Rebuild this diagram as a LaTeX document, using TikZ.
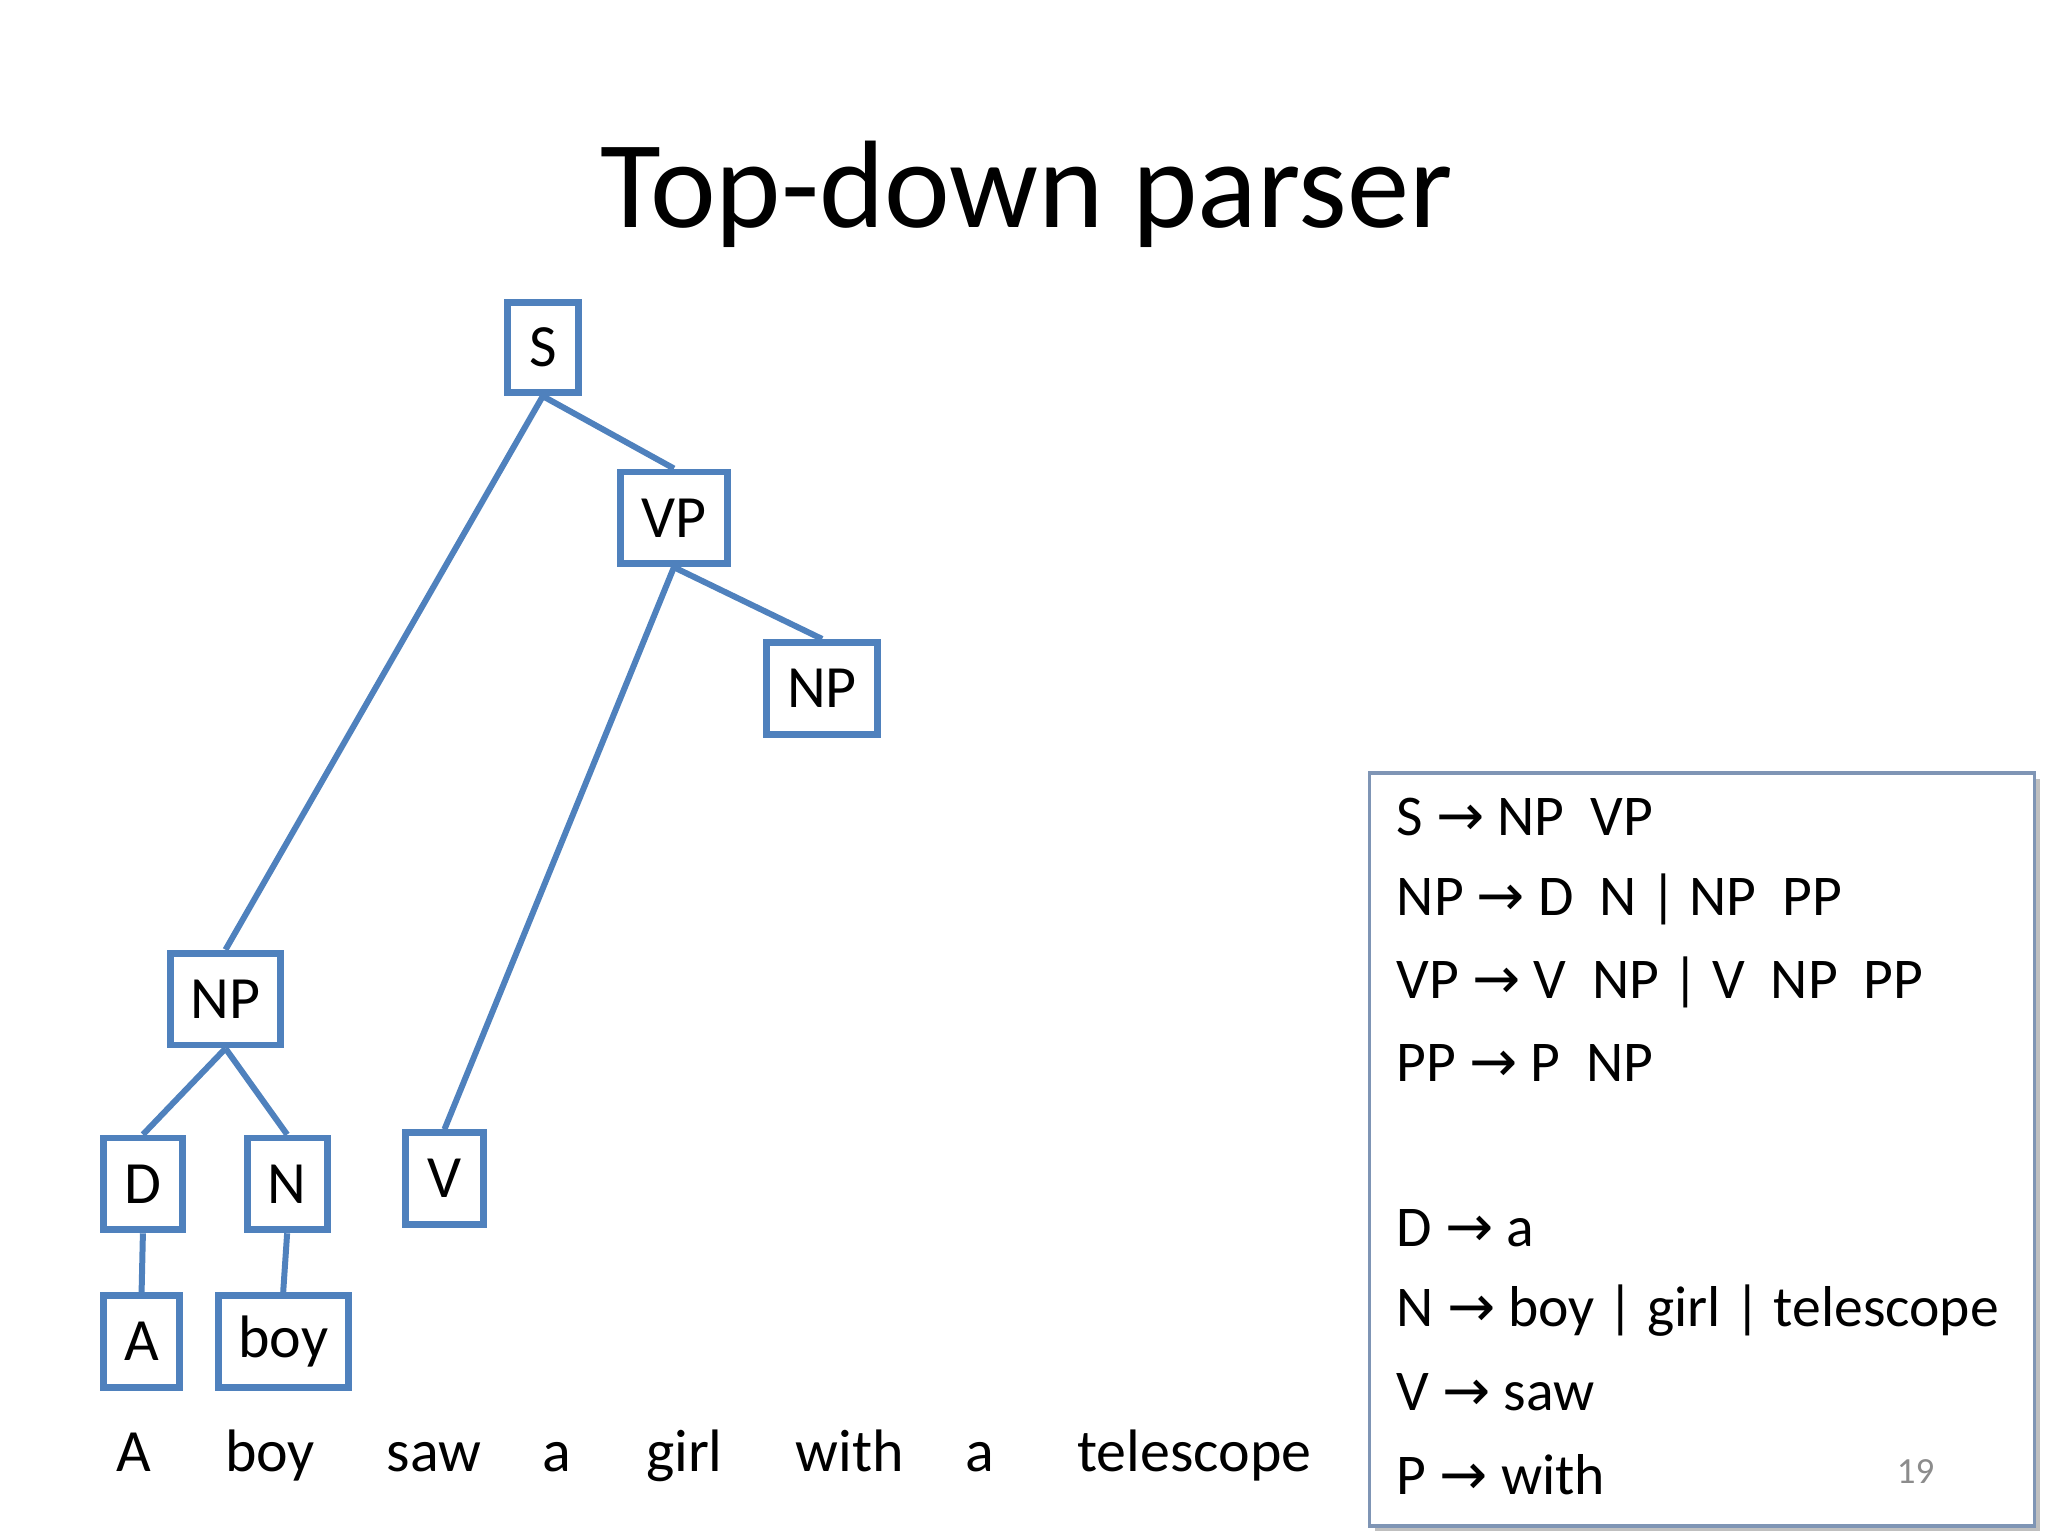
\documentclass[tikz,border=0pt]{standalone}
\usepackage{fontspec}
\setmainfont{Carlito}
\newfontfamily\arr{DejaVu Sans}
\begin{document}
\begin{tikzpicture}[x=0.01cm,y=-0.01cm,
  bx/.style={draw=tblue,line width=1.5pt,inner sep=0pt,font=\fontsize{13}{16}\selectfont},
  ed/.style={draw=tblue,line width=1.3pt},
  wd/.style={font=\fontsize{13}{16}\selectfont},
  gr/.style={font=\fontsize{12.5}{16}\selectfont,anchor=west}]
\definecolor{tblue}{HTML}{4F81BD}
\definecolor{gborder}{HTML}{7F95B5}
\useasboundingbox (0,0) rectangle (1562,1171);
\node[font=\fontsize{27}{32}\selectfont] (title) at (783,148) {Top-down parser};
\node[bx,minimum width=0.54cm,minimum height=0.69cm] (S) at (414,265) {S};
\node[bx,minimum width=0.81cm,minimum height=0.70cm] (VP) at (514,395) {VP};
\node[bx,minimum width=0.85cm,minimum height=0.70cm] (NP2) at (627,525) {NP};
\node[bx,minimum width=0.84cm,minimum height=0.70cm] (NP1) at (172,762) {NP};
\node[bx,minimum width=0.60cm,minimum height=0.70cm] (D) at (109,903) {D};
\node[bx,minimum width=0.61cm,minimum height=0.70cm] (N) at (219,903) {N};
\node[bx,minimum width=0.60cm,minimum height=0.70cm] (V) at (339,899) {V};
\node[bx,minimum width=0.58cm,minimum height=0.70cm] (A) at (108,1023) {A};
\node[bx,minimum width=0.99cm,minimum height=0.70cm] (boy) at (216,1023) {boy};
\draw[ed] (S.south) -- (NP1.north);
\draw[ed] (S.south) -- (VP.north);
\draw[ed] (VP.south) -- (V.north);
\draw[ed] (VP.south) -- (NP2.north);
\draw[ed] (NP1.south) -- (D.north);
\draw[ed] (NP1.south) -- (N.north);
\draw[ed] (D.south) -- (A.north);
\draw[ed] (N.south) -- (boy.north);
\foreach \t/\x [count=\i] in {A/102,boy/206,saw/331,a/425,girl/522,with/648,a/747,telescope/911}
  \node[wd,anchor=base] (w\i) at (\x,1122) {\t};
\fill[black!25] (1049,594) rectangle (1556,1168);
\node[draw=gborder,fill=white,line width=0.8pt,minimum width=5.07cm,minimum height=5.74cm,anchor=north west] (G) at (1043,588) {};
\node[gr] (g1) at (1053,623) {S {\arr→} NP\ \ VP};
\node[gr] (g2) at (1053,686) {NP {\arr→} D\ \ N | NP\ \ PP};
\node[gr] (g3) at (1053,749) {VP {\arr→} V\ \ NP | V\ \ NP\ \ PP};
\node[gr] (g4) at (1053,811) {PP {\arr→} P\ \ NP};
\node[gr] (g5) at (1053,937) {D {\arr→} a};
\node[gr] (g6) at (1053,1000) {N {\arr→} boy | girl | telescope};
\node[gr] (g7) at (1053,1062) {V {\arr→} saw};
\node[gr] (g8) at (1053,1125) {P {\arr→} with};
\node[text=black!45,font=\fontsize{8}{10}\selectfont] (num) at (1461,1122) {19};
\end{tikzpicture}
\end{document}
